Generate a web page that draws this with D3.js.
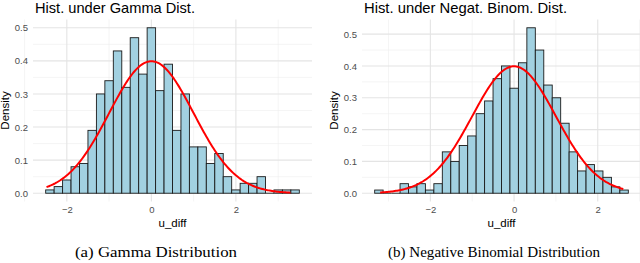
<!DOCTYPE html>
<html>
<head>
<meta charset="utf-8">
<script src="https://cdn.jsdelivr.net/npm/d3@7"></script>
<style>
  body { margin: 0; background: #fff; }
  svg { display: block; }
</style>
</head>
<body>
<svg id="chart"></svg>
<script>
// histogram densities, 30 bins each
const densityGamma = [0.01, 0.02, 0.04, 0.08, 0.09, 0.19, 0.30, 0.34, 0.43, 0.32,
  0.47, 0.36, 0.50, 0.31, 0.39, 0.19, 0.30, 0.14, 0.14, 0.09,
  0.12, 0.05, 0.01, 0.03, 0.03, 0.05, 0.00, 0.01, 0.01, 0.01];
const densityNegBin = [0.01, 0.00, 0.00, 0.03, 0.02, 0.03, 0.01, 0.03, 0.13, 0.10,
  0.15, 0.18, 0.25, 0.29, 0.36, 0.40, 0.33, 0.41, 0.52, 0.45,
  0.34, 0.30, 0.22, 0.13, 0.07, 0.09, 0.07, 0.05, 0.02, 0.01];
const binRangeGamma = [-2.5, 3.5];
const binRangeNegBin = [-3.33, 2.73];
// range of u_diff the red N(0,1) curve covers
const curveRangeGamma = [-2.48, 3.29];
const curveRangeNegBin = [-3.20, 2.61];

const xTicks = [-2, 0, 2];
const xMinorTicks = [-3, -1, 1, 3];
const yTicks = [0, 0.1, 0.2, 0.3, 0.4, 0.5];
const yMinorTicks = [0.05, 0.15, 0.25, 0.35, 0.45];
const titles = ['Hist. under Gamma Dist.', 'Hist. under Negat. Binom. Dist.'];
const captions = ['(a) Gamma Distribution', '(b) Negative Binomial Distribution'];

const width = 640, height = 263;
const svg = d3.select('#chart').attr('width', width).attr('height', height);

const panels = [
  { density: densityGamma, bins: binRangeGamma, curve: curveRangeGamma,
    title: titles[0], caption: captions[0], left: 33, right: 312,
    titleWidth: 160, captionX: 156, captionWidth: 162, yLabelX: 9 },
  { density: densityNegBin, bins: binRangeNegBin, curve: curveRangeNegBin,
    title: titles[1], caption: captions[1], left: 362, right: 641,
    titleWidth: 203, captionX: 494, captionWidth: 212, yLabelX: 338 }
];
const panelTop = 19.5, panelBottom = 201.5;

const dnorm = v => Math.exp(-v * v / 2) / Math.sqrt(2 * Math.PI);
const sans = 'Liberation Sans, Arial, sans-serif';

panels.forEach(p => {
  const n = p.density.length;
  const bw = (p.bins[1] - p.bins[0]) / n;
  const bins = p.density.map((d, k) => ({ x0: p.bins[0] + k * bw, x1: p.bins[0] + (k + 1) * bw, d }));

  const xSpan = p.bins[1] - p.bins[0];
  const x = d3.scaleLinear()
    .domain([p.bins[0] - xSpan * 0.05, p.bins[1] + xSpan * 0.05])
    .range([p.left, p.right]);
  const yMax = d3.max(p.density);
  const y = d3.scaleLinear()
    .domain([-yMax * 0.05, yMax * 1.05])
    .range([panelBottom, panelTop]);

  const g = svg.append('g');

  // grid
  g.selectAll('.ygm').data(yMinorTicks).enter().append('line')
    .attr('x1', p.left).attr('x2', p.right)
    .attr('y1', d => y(d)).attr('y2', d => y(d))
    .attr('stroke', '#eeeeee').attr('stroke-width', 0.6);
  g.selectAll('.xgm').data(xMinorTicks).enter().append('line')
    .attr('y1', panelTop).attr('y2', panelBottom)
    .attr('x1', d => x(d)).attr('x2', d => x(d))
    .attr('stroke', '#eeeeee').attr('stroke-width', 0.6);
  g.selectAll('.yg').data(yTicks).enter().append('line')
    .attr('x1', p.left).attr('x2', p.right)
    .attr('y1', d => y(d)).attr('y2', d => y(d))
    .attr('stroke', '#e4e4e4').attr('stroke-width', 1.1);
  g.selectAll('.xg').data(xTicks).enter().append('line')
    .attr('y1', panelTop).attr('y2', panelBottom)
    .attr('x1', d => x(d)).attr('x2', d => x(d))
    .attr('stroke', '#e4e4e4').attr('stroke-width', 1.1);

  // bars
  g.selectAll('.bar').data(bins.filter(b => b.d > 0)).enter().append('rect')
    .attr('class', 'bar')
    .attr('x', b => x(b.x0))
    .attr('width', b => x(b.x1) - x(b.x0))
    .attr('y', b => y(b.d))
    .attr('height', b => y(0) - y(b.d))
    .attr('fill', '#a2d1e1')
    .attr('stroke', '#1a1a1a')
    .attr('stroke-width', 0.9);
  // zero-height bins still show a baseline
  g.selectAll('.zero').data(bins.filter(b => b.d === 0)).enter().append('line')
    .attr('x1', b => x(b.x0)).attr('x2', b => x(b.x1))
    .attr('y1', y(0)).attr('y2', y(0))
    .attr('stroke', '#1a1a1a').attr('stroke-width', 0.9);

  // normal density curve
  const pts = d3.range(0, 201).map(k => p.curve[0] + (p.curve[1] - p.curve[0]) * k / 200);
  g.append('path')
    .datum(pts)
    .attr('fill', 'none')
    .attr('stroke', '#ff0000')
    .attr('stroke-width', 2)
    .attr('d', d3.line().x(v => x(v)).y(v => y(dnorm(v))));

  // axes (ggplot minimal: labels only)
  const yAxis = g.append('g')
    .attr('transform', `translate(${p.left - 2},0)`)
    .call(d3.axisLeft(y).tickValues(yTicks).tickFormat(d3.format('.1f')).tickSize(0));
  yAxis.select('.domain').remove();
  yAxis.selectAll('text')
    .attr('fill', '#4d4d4d')
    .style('font-family', sans)
    .style('font-size', '9.5px');

  const xAxis = g.append('g')
    .attr('transform', `translate(0,${panelBottom + 2})`)
    .call(d3.axisBottom(x).tickValues(xTicks).tickFormat(d3.format('d')).tickSize(0));
  xAxis.select('.domain').remove();
  xAxis.selectAll('text')
    .attr('fill', '#4d4d4d')
    .style('font-family', sans)
    .style('font-size', '9.5px');

  // axis titles
  g.append('text')
    .attr('x', (p.left + p.right) / 2)
    .attr('y', 227)
    .attr('text-anchor', 'middle')
    .style('font-family', sans)
    .style('font-size', '11.5px')
    .text('u_diff');
  g.append('text')
    .attr('transform', `translate(${p.yLabelX},${(panelTop + panelBottom) / 2}) rotate(-90)`)
    .attr('text-anchor', 'middle')
    .style('font-family', sans)
    .style('font-size', '11.5px')
    .text('Density');

  // plot title
  g.append('text')
    .attr('x', p.left + 2)
    .attr('y', 13)
    .attr('textLength', p.titleWidth)
    .attr('lengthAdjust', 'spacingAndGlyphs')
    .style('font-family', sans)
    .style('font-size', '14.5px')
    .text(p.title);

  // sub-figure caption
  g.append('text')
    .attr('x', p.captionX)
    .attr('y', 257)
    .attr('text-anchor', 'middle')
    .attr('textLength', p.captionWidth)
    .attr('lengthAdjust', 'spacingAndGlyphs')
    .style('font-family', 'Liberation Serif, Times New Roman, serif')
    .style('font-size', '15px')
    .text(p.caption);
});
</script>
</body>
</html>
